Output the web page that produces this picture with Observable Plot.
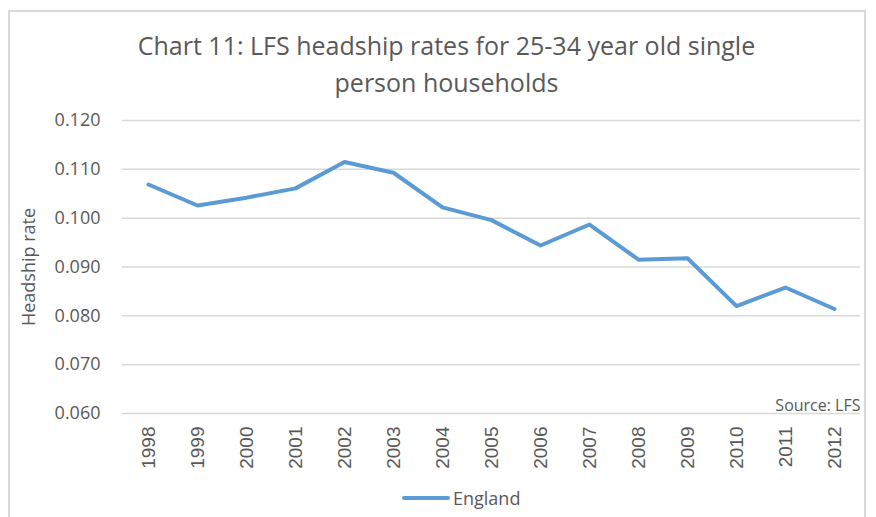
<!DOCTYPE html>
<html>
<head>
<meta charset="utf-8">
<script src="https://cdn.jsdelivr.net/npm/d3@7"></script>
<script src="https://cdn.jsdelivr.net/npm/@observablehq/plot@0.6"></script>
<style>
  html, body { margin: 0; padding: 0; background: #fff; }
  #wrap { position: relative; width: 876px; height: 517px; overflow: hidden; font-family: "Open Sans", sans-serif; color: #595959; }
  #frame { position: absolute; left: 8px; top: 10px; width: 858px; height: 520px; border: 2px solid #d9d9d9; box-sizing: border-box; }
  #title { position: absolute; left: 0; width: 893px; top: 27px; text-align: center; font-size: 25px; line-height: 37px; color: #595959; }
  #chart { position: absolute; left: 0; top: 0; }
  #legend { position: absolute; left: 402px; top: 486px; font-size: 18px; color: #595959; display: flex; align-items: center; }
  #legend .sw { display: inline-block; width: 48px; height: 4px; border-radius: 2px; background: #5b9bd5; margin-right: 3px; }
</style>
</head>
<body>
<div id="wrap">
  <div id="frame"></div>
  <div id="chart"></div>
  <div id="title">Chart 11: LFS headship rates for 25-34 year old single<br>person households</div>
  <div id="legend"><span class="sw"></span><span>England</span></div>
</div>
<script>
const years = ["1998","1999","2000","2001","2002","2003","2004","2005","2006","2007","2008","2009","2010","2011","2012"];
const england = [0.1069, 0.1026, 0.1042, 0.1061, 0.1115, 0.1093, 0.1022, 0.0996, 0.0944, 0.0987, 0.0915, 0.0918, 0.0820, 0.0858, 0.0814];
const yTicks = [0.060, 0.070, 0.080, 0.090, 0.100, 0.110, 0.120];
const seriesName = "England";
const sourceNote = "Source: LFS";
const yLabel = "Headship rate";

const data = years.map((y, i) => ({year: y, value: england[i], series: seriesName}));

const chart = Plot.plot({
  width: 876,
  height: 517,
  marginTop: 120,
  marginBottom: 104,
  marginLeft: 122,
  marginRight: 16,
  style: { fontFamily: "Open Sans, sans-serif", color: "#595959", background: "transparent" },
  x: { type: "point", domain: years, padding: 0.5 },
  y: { domain: [0.060, 0.120] },
  marks: [
    Plot.gridY(yTicks, { stroke: "#d9d9d9", strokeOpacity: 1, strokeWidth: 1.5 }),
    Plot.axisY(yTicks, {
      tickSize: 0, tickPadding: 22, tickFormat: d3.format(".3f"),
      fontSize: 18, fill: "#595959",
      label: yLabel, labelAnchor: "center", labelArrow: "none", labelOffset: 100
    }),
    Plot.axisX({
      tickSize: 0, tickPadding: 13, tickRotate: -90,
      fontSize: 19, fontFamily: "Liberation Sans, Arial, sans-serif", fill: "#595959",
      label: null
    }),
    Plot.line(data, { x: "year", y: "value", stroke: "#5b9bd5", strokeWidth: 4, strokeLinecap: "round", strokeLinejoin: "round" }),
    Plot.text([sourceNote], { frameAnchor: "bottom-right", text: d => d, dy: -3, dx: 0, fontSize: 16, fill: "#595959", textAnchor: "end", lineAnchor: "bottom" })
  ]
});
document.getElementById("chart").appendChild(chart);
</script>
</body>
</html>
